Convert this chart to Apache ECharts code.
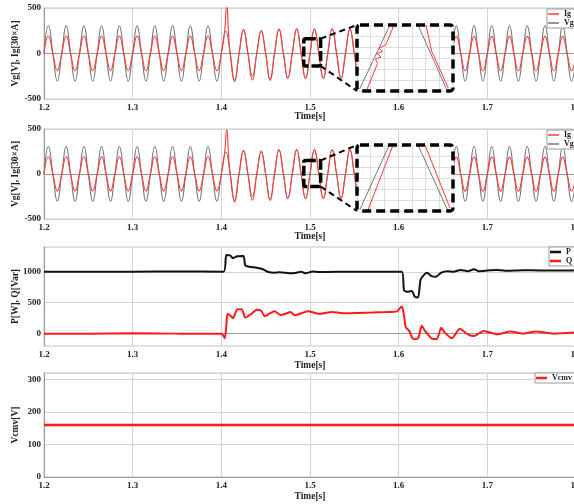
<!DOCTYPE html>
<html><head><meta charset="utf-8">
<script src="https://cdn.jsdelivr.net/npm/echarts@6/dist/echarts.min.js"></script>
<style>html,body{margin:0;padding:0;background:#fff}#c{width:574px;height:504px}</style>
</head><body><div id="c"></div>
<script>
// ---------------- data ----------------
const xTicks = [1.2, 1.3, 1.4, 1.5, 1.6, 1.7, 1.8];
// half-cycle peak values (one per 10 ms half period, first peak at 1.205 s)
const vgPeaks = [
  305,-303,305,-303,305,-303,305,-303,305,-303,305,-303,305,-303,305,-303,305,-303,305,-303,
  245,-293,253,-250,242,-283,268,-265,270,-272,268,-270,270,-270,268,-272,270,-270,268,-270,
  305,-303,305,-303,305,-303,305,-303,305,-303,305,-303,305,-303,305,-303,305,-303,305,-303
];
const igPeaks = [
  192,-188,192,-188,192,-188,192,-188,192,-188,192,-188,192,-188,192,-188,192,-188,192,-188,
  250,-310,262,-292,255,-295,270,-275,272,-275,270,-272,272,-272,270,-274,272,-272,270,-272,
  188,-190,188,-190,188,-190,188,-190,188,-190,188,-190,188,-190,188,-190,188,-190,188,-190
];
const spikeIndex = 20;
const igSpike1 = [[1.4035, 220], [1.4062, 540], [1.408, 240]];
const igSpike2 = [[1.4035, 220], [1.4062, 495], [1.408, 240]];
const pData = [[1.2,1000],[1.3,1000],[1.35,1005],[1.4025,1000],[1.4055,1270],[1.41,1265],[1.413,1220],
  [1.418,1250],[1.425,1255],[1.427,1100],[1.432,1080],[1.44,1065],[1.447,1040],[1.452,1000],[1.46,985],
  [1.465,990],[1.472,985],[1.478,975],[1.485,985],[1.49,1000],[1.495,975],[1.503,1005],[1.51,995],
  [1.53,1000],[1.56,998],[1.6035,1000],[1.606,700],[1.61,675],[1.615,690],[1.618,600],[1.622,585],
  [1.6245,860],[1.628,940],[1.632,985],[1.637,930],[1.642,920],[1.648,985],[1.655,1010],[1.662,1000],
  [1.67,1030],[1.678,1010],[1.685,1040],[1.69,1010],[1.7,1020],[1.71,1030],[1.72,1015],[1.74,1025],
  [1.76,1020],[1.8,1020]];
const qData = [[1.2,0],[1.25,-3],[1.3,5],[1.35,0],[1.4,0],[1.4025,-40],[1.404,-75],[1.4055,100],[1.407,320],
  [1.411,280],[1.413,250],[1.418,390],[1.423,395],[1.427,260],[1.433,310],[1.44,385],[1.445,370],[1.449,280],
  [1.455,330],[1.46,360],[1.467,300],[1.472,320],[1.478,350],[1.483,295],[1.49,330],[1.498,360],[1.51,320],
  [1.525,348],[1.54,330],[1.555,335],[1.57,340],[1.585,348],[1.598,360],[1.6035,440],[1.606,300],[1.608,100],
  [1.612,40],[1.615,-60],[1.617,-90],[1.622,-76],[1.626,127],[1.63,40],[1.637,-76],[1.643,-90],[1.648,94],
  [1.652,17],[1.66,-76],[1.669,77],[1.678,-11],[1.685,-40],[1.696,44],[1.711,-11],[1.726,33],[1.74,0],
  [1.755,33],[1.775,0],[1.8,20]];
const vcmvData = [[1.2,160],[1.8,160]];
// zoomed insets (inset axis units: x 0..7, y 0..6)
const ins1VgUp = [[0.2,0.2],[2.4,6]];
const ins1VgDown = [[4.45,6],[6.55,0.1]];
const ins1IgUp = [[0.71,0.1],[1.5,2.5],[1.35,2.9],[1.75,3.1],[1.45,3.4],[1.85,3.6],[1.6,3.9],[2.1,4.2],[2.7,6]];
const ins1IgDown = [[5.03,6],[5.45,3.57],[5.35,3.4],[5.6,3.2],[6.66,0.25]];
const ins2VgUp = [[0.2,0.1],[2.35,6]];
const ins2VgDown = [[4.45,6],[6.6,0.1]];
const ins2IgUp = [[0.8,0.1],[2.63,6]];
const ins2IgDown = [[4.96,6],[6.78,0.27]];
// zoom window marked on the main plots [t0, t1, vTop, vBottom]
const zoomBox1 = [1.493, 1.512, 163, -137];
const zoomBox2 = [1.493, 1.512, 150, -139];

// ---------------- build ----------------
function wave(peaks, spike) {
  const pts = [[1.2, 0]];
  for (let k = 0; k < peaks.length; k++) {
    if (k === spikeIndex && spike) pts.push(...spike);
    else pts.push([+(1.205 + 0.01 * k).toFixed(4), peaks[k]]);
    pts.push([+(1.21 + 0.01 * k).toFixed(4), 0]);
  }
  return pts;
}
const FONT = 'Liberation Serif';
const tick = {fontFamily: FONT, fontWeight: 'bold', fontSize: 9, color: '#222'};
const nameStyle = {fontFamily: FONT, fontWeight: 'bold', fontSize: 9.5, color: '#222'};
const gridDefs = [
  {left: 44, top: 8, width: 532, height: 91},
  {left: 44, top: 129, width: 532, height: 90},
  {left: 44, top: 247, width: 532, height: 99},
  {left: 44, top: 373, width: 532, height: 104},
  {left: 357, top: 25, width: 96, height: 66},
  {left: 357, top: 145, width: 96, height: 66}
];
const grids = gridDefs.map((g, i) => Object.assign({show: i < 4, borderColor: '#c4c4c4', borderWidth: 1,
  containLabel: false, outerBoundsMode: 'none'}, g));
function xAx(i, gap) {
  return {type: 'value', gridIndex: i, min: xTicks[0], max: xTicks[xTicks.length - 1], interval: 0.1,
    name: 'Time[s]', nameLocation: 'middle', nameGap: gap, nameMoveOverlap: false,
    nameTextStyle: nameStyle,
    axisLine: {show: true, lineStyle: {color: '#999'}}, axisTick: {show: false},
    axisLabel: Object.assign({margin: 4, formatter: v => v.toFixed(1)}, tick),
    splitLine: {show: true, lineStyle: {color: '#d4d4d4'}}};
}
function yAx(i, name, extra) {
  return Object.assign({type: 'value', gridIndex: i, name: name, nameLocation: 'middle', nameGap: 23,
    nameMoveOverlap: false,
    nameTextStyle: nameStyle,
    axisLine: {show: true, lineStyle: {color: '#999'}}, axisTick: {show: false},
    axisLabel: Object.assign({margin: 3, formatter: v => String(v)}, tick),
    splitLine: {show: true, lineStyle: {color: '#d4d4d4'}}}, extra);
}
const insetX = i => ({type: 'value', gridIndex: i, min: 0, max: 7, interval: 1, z: 15,
  axisLine: {show: false}, axisTick: {show: false}, axisLabel: {show: false},
  splitLine: {show: true, lineStyle: {color: '#dcdcdc'}}});
const insetY = i => ({type: 'value', gridIndex: i, min: 0, max: 6, interval: 1, z: 15,
  axisLine: {show: false}, axisTick: {show: false}, axisLabel: {show: false},
  splitLine: {show: true, lineStyle: {color: '#dcdcdc'}}});

const VG = '#767676', IG = '#ff3b3b';
function ln(name, i, data, color, w, smooth, z) {
  return {type: 'line', name: name, xAxisIndex: i, yAxisIndex: i, data: data, showSymbol: false, symbol: 'none',
    smooth: smooth, lineStyle: {color: color, width: w}, itemStyle: {color: color}, animation: false, z: z || 2};
}
const legendText = {fontFamily: FONT, fontWeight: 'bold', fontSize: 8, color: '#222'};
function lg(left, top, data, h) {
  return {left: left, top: top, orient: 'vertical', data: data, selectedMode: false, icon: 'rect',
    itemWidth: 11, itemHeight: h, itemGap: 1, padding: [1, 4, 1, 1], borderColor: '#999', borderWidth: 1,
    backgroundColor: '#fff', textStyle: legendText};
}

const option = {
  animation: false,
  grid: grids,
  xAxis: [xAx(0, 13), xAx(1, 13), xAx(2, 15), xAx(3, 15), insetX(4), insetX(5)],
  yAxis: [
    yAx(0, 'Vg[V], Ig[30×A]', {min: -500, max: 500, interval: 500}),
    yAx(1, 'Vg[V], Ig[30×A]', {min: -500, max: 500, interval: 500}),
    yAx(2, 'P[W], Q[Var]', {min: -200, max: 1400,
      axisLabel: Object.assign({margin: 3, formatter: v => String(v), customValues: [0, 500, 1000]}, tick),
      axisTick: {show: false, customValues: [0, 500, 1000]}}),
    yAx(3, 'Vcmv[V]', {min: 0, max: 320, interval: 100,
      axisLabel: Object.assign({margin: 3, showMaxLabel: false, formatter: v => String(v)}, tick)}),
    insetY(4), insetY(5)
  ],
  legend: [lg(547, 9, ['Ig', 'Vg'], 1.5), lg(547, 130, ['Ig', 'Vg'], 1.5), lg(549, 247, ['P', 'Q'], 2.5), lg(535, 373, ['Vcmv'], 2.5)],
  series: [
    ln('Vg', 0, wave(vgPeaks), VG, 1.1, 0.5),
    ln('Ig', 0, wave(igPeaks, igSpike1), IG, 1.1, 0.5),
    ln('Vg', 1, wave(vgPeaks), VG, 1.1, 0.5),
    ln('Ig', 1, wave(igPeaks, igSpike2), IG, 1.1, 0.5),
    ln('P', 2, pData, '#111', 2, 0.2),
    ln('Q', 2, qData, '#ff1a1a', 2, 0.2),
    ln('Vcmv', 3, vcmvData, '#ff1a1a', 2.5, false),
    ln('ins1vgu', 4, ins1VgUp, VG, 1, false, 20), ln('ins1vgd', 4, ins1VgDown, VG, 1, false, 20),
    ln('ins1igu', 4, ins1IgUp, IG, 1, false, 20), ln('ins1igd', 4, ins1IgDown, IG, 1, false, 20),
    ln('ins2vgu', 5, ins2VgUp, VG, 1, false, 20), ln('ins2vgd', 5, ins2VgDown, VG, 1, false, 20),
    ln('ins2igu', 5, ins2IgUp, IG, 1, false, 20), ln('ins2igd', 5, ins2IgDown, IG, 1, false, 20)
  ]
};
const chart = echarts.init(document.getElementById('c'), null, {renderer: 'canvas'});
chart.setOption(option);

// annotation graphics: zoom window + inset frames
const gfx = [];
function addZoom(gi, box, ins) {
  const a = chart.convertToPixel({gridIndex: gi}, [box[0], box[2]]);
  const b = chart.convertToPixel({gridIndex: gi}, [box[1], box[3]]);
  const g = gridDefs[ins];
  gfx.push({type: 'rect', z: 10, shape: {x: g.left, y: g.top, width: g.width, height: g.height}, style: {fill: '#fff'}});
  gfx.push({type: 'rect', z: 30, shape: {x: g.left, y: g.top, width: g.width, height: g.height, r: 3},
    style: {fill: 'none', stroke: '#000', lineWidth: 3.5, lineDash: [9, 5]}});
  gfx.push({type: 'rect', z: 30, shape: {x: a[0], y: a[1], width: b[0] - a[0], height: b[1] - a[1], r: 2},
    style: {fill: 'none', stroke: '#000', lineWidth: 3.5, lineDash: [10, 3]}});
  gfx.push({type: 'line', z: 30, shape: {x1: b[0], y1: a[1], x2: g.left, y2: g.top}, style: {stroke: '#000', lineWidth: 2, lineDash: [6, 4]}});
  gfx.push({type: 'line', z: 30, shape: {x1: b[0], y1: b[1], x2: g.left, y2: g.top + g.height}, style: {stroke: '#000', lineWidth: 2, lineDash: [6, 4]}});
}
addZoom(0, zoomBox1, 4);
addZoom(1, zoomBox2, 5);
chart.setOption({graphic: gfx});
</script></body></html>
